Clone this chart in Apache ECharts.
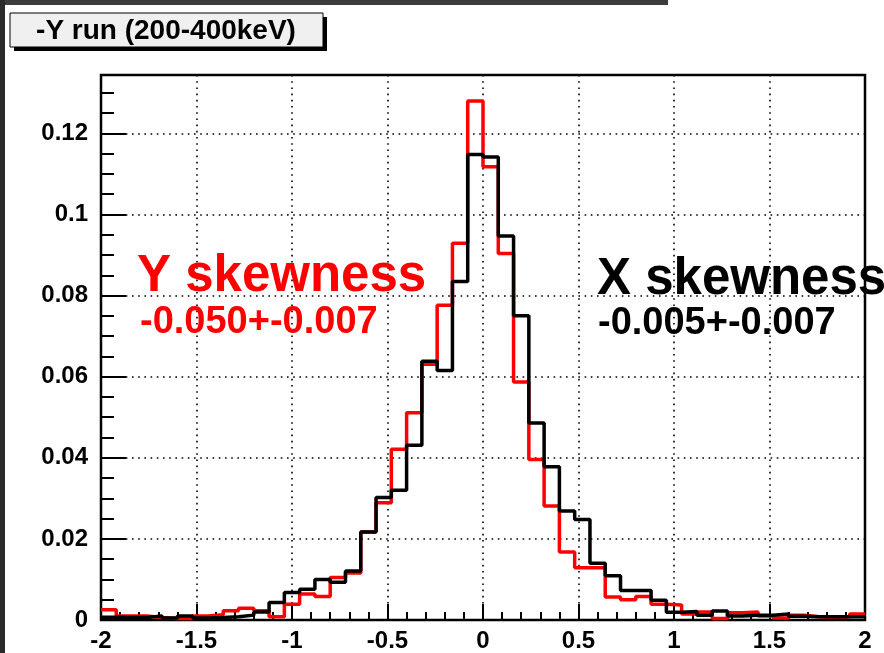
<!DOCTYPE html>
<html>
<head>
<meta charset="utf-8">
<script src="https://cdn.jsdelivr.net/npm/echarts@6/dist/echarts.min.js"></script>
<style>
  html, body { margin: 0; padding: 0; background: #fff; }
  #chart { width: 884px; height: 653px; }
</style>
</head>
<body>
<div id="chart"></div>
<script>
// Histogram binning: 50 bins of width 0.08 between -2 and 2
const binStart = -2;
const binWidth = 0.08;

// Normalised bin contents, Y direction (red)
const ySkewHist = [
  0.0025, 0.0010, 0.0010, 0.0006, 0.0004, 0.0004, 0.0010, 0.0013, 0.0023, 0.0029,
  0.0023, 0.0008, 0.0039, 0.0064, 0.0058, 0.0105, 0.0116, 0.0217, 0.0289, 0.0421,
  0.0511, 0.0631, 0.0776, 0.0929, 0.1280, 0.1118, 0.0904, 0.0587, 0.0396, 0.0281,
  0.0168, 0.0129, 0.0129, 0.0057, 0.0050, 0.0058, 0.0039, 0.0037, 0.0015, 0.0020,
  0.0004, 0.0018, 0.0020, 0.0010, 0.0005, 0.0012, 0.0008, 0.0006, 0.0008, 0.0015
];

// Normalised bin contents, X direction (black)
const xSkewHist = [
  0.0007, 0.0006, 0.0006, 0.0010, 0.0005, 0.0010, 0.0005, 0.0006, 0.0008, 0.0012,
  0.0020, 0.0043, 0.0068, 0.0076, 0.0100, 0.0093, 0.0121, 0.0217, 0.0302, 0.0320,
  0.0431, 0.0638, 0.0615, 0.0835, 0.1148, 0.1142, 0.0947, 0.0750, 0.0486, 0.0378,
  0.0269, 0.0248, 0.0140, 0.0109, 0.0073, 0.0073, 0.0049, 0.0019, 0.0021, 0.0012,
  0.0022, 0.0010, 0.0012, 0.0012, 0.0015, 0.0009, 0.0008, 0.0008, 0.0008, 0.0008
];

// Axis ticks
const xTicks = [-2, -1.5, -1, -0.5, 0, 0.5, 1, 1.5, 2];
const yTicks = [0, 0.02, 0.04, 0.06, 0.08, 0.1, 0.12];
const yMax = 0.1344;

const titleText = '-Y run (200-400keV)';
const yLabel = 'Y skewness';
const yValue = '-0.050+-0.007';
const xLabel = 'X skewness';
const xValue = '-0.005+-0.007';

const FONT = '"Liberation Sans", Arial, Helvetica, sans-serif';

// Step outline: one point at the left edge of every bin, plus the closing right edge
function stepData(hist) {
  const pts = hist.map((v, i) => [binStart + i * binWidth, v]);
  pts.push([binStart + hist.length * binWidth, hist[hist.length - 1]]);
  return pts;
}

const dotted = { color: '#000', width: 1.6, type: [1.6, 4.6] };
const tickLabel = { color: '#000', fontFamily: FONT, fontWeight: 'bold', fontSize: 24 };

const chart = echarts.init(document.getElementById('chart'), null, { renderer: 'canvas' });

chart.setOption({
  animation: false,
  backgroundColor: '#fff',
  grid: {
    left: 101, top: 75, right: 19, bottom: 33,
    show: true, borderColor: '#000', borderWidth: 2.5, backgroundColor: '#fff'
  },
  xAxis: [
    {
      type: 'value', position: 'bottom',
      min: xTicks[0], max: xTicks[xTicks.length - 1], interval: xTicks[1] - xTicks[0],
      axisLine: { show: false, onZero: false },
      axisTick: { show: true, inside: true, length: 16, lineStyle: { color: '#000', width: 2 } },
      axisLabel: Object.assign({ margin: 9, formatter: v => String(+v.toFixed(2)) }, tickLabel),
      splitLine: { show: true, lineStyle: dotted }
    },
    {
      type: 'value', position: 'bottom',
      min: xTicks[0], max: xTicks[xTicks.length - 1], interval: 0.1,
      axisLine: { show: false, onZero: false },
      axisTick: { show: true, inside: true, length: 8, lineStyle: { color: '#000', width: 2 } },
      axisLabel: { show: false },
      splitLine: { show: false }
    }
  ],
  yAxis: [
    {
      type: 'value', position: 'left',
      min: yTicks[0], max: yMax, interval: yTicks[1] - yTicks[0],
      axisLine: { show: false, onZero: false },
      axisTick: { show: true, inside: true, length: 25, lineStyle: { color: '#000', width: 2 } },
      axisLabel: Object.assign({ margin: 13, showMaxLabel: false, formatter: v => String(+v.toFixed(3)) }, tickLabel),
      splitLine: { show: true, lineStyle: dotted }
    },
    {
      type: 'value', position: 'left',
      min: yTicks[0], max: yMax, interval: 0.005,
      axisLine: { show: false, onZero: false },
      axisTick: { show: true, inside: true, length: 13, lineStyle: { color: '#000', width: 2 } },
      axisLabel: { show: false },
      splitLine: { show: false }
    }
  ],
  series: [
    {
      name: yLabel, type: 'line', step: 'end', xAxisIndex: 0, yAxisIndex: 0,
      symbol: 'none', clip: false,
      lineStyle: { color: '#ff0000', width: 3.5 },
      data: stepData(ySkewHist), z: 3
    },
    {
      name: xLabel, type: 'line', step: 'end', xAxisIndex: 0, yAxisIndex: 0,
      symbol: 'none', clip: false,
      lineStyle: { color: '#000000', width: 3.5 },
      data: stepData(xSkewHist), z: 4
    }
  ],
  graphic: [
    // canvas window edges
    { type: 'rect', shape: { x: 0, y: 0, width: 668, height: 5 }, style: { fill: '#3c3c3c' }, z: 100 },
    { type: 'rect', shape: { x: 0, y: 0, width: 5, height: 653 }, style: { fill: '#2a2a2a' }, z: 100 },
    // title box with drop shadow
    { type: 'rect', shape: { x: 14, y: 17, width: 313, height: 34 }, style: { fill: '#000' }, z: 100 },
    { type: 'rect', shape: { x: 10, y: 13, width: 313, height: 34 }, style: { fill: '#f0f0f0', stroke: '#000', lineWidth: 1 }, z: 101 },
    {
      type: 'text', x: 166, y: 31, z: 102,
      style: { text: titleText, fill: '#000', font: 'bold 28px ' + FONT, align: 'center', verticalAlign: 'middle' }
    },
    // skewness annotations
    {
      type: 'text', x: 137, y: 277, z: 102,
      style: { text: yLabel, fill: '#ff0000', font: 'bold 51px ' + FONT, align: 'left', verticalAlign: 'middle' }
    },
    {
      type: 'text', x: 140, y: 323, z: 102,
      style: { text: yValue, fill: '#ff0000', font: 'bold 38px ' + FONT, align: 'left', verticalAlign: 'middle' }
    },
    {
      type: 'text', x: 597, y: 280, z: 102,
      style: { text: xLabel, fill: '#000', font: 'bold 51px ' + FONT, align: 'left', verticalAlign: 'middle' }
    },
    {
      type: 'text', x: 598, y: 324, z: 102,
      style: { text: xValue, fill: '#000', font: 'bold 38px ' + FONT, align: 'left', verticalAlign: 'middle' }
    }
  ]
});
</script>
</body>
</html>
